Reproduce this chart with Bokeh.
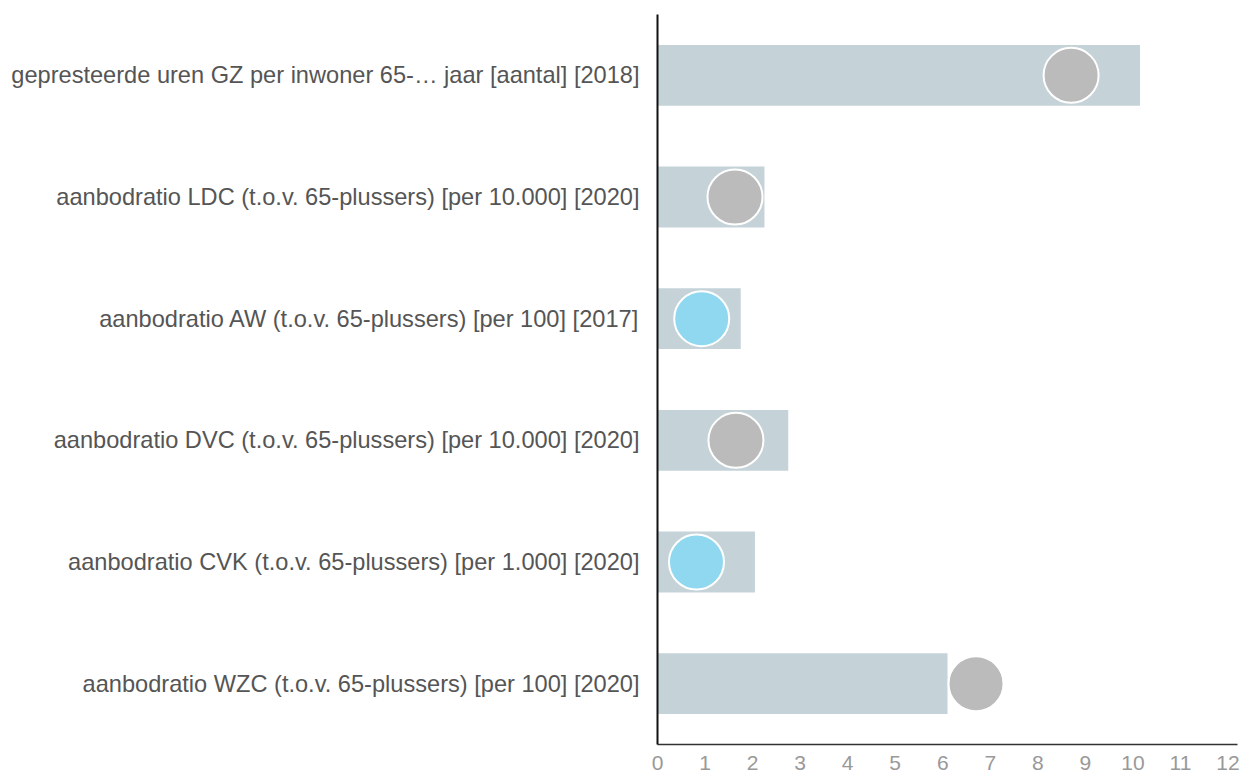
from bokeh.plotting import figure
from bokeh.models import FactorRange, Range1d, FixedTicker, ColumnDataSource
from bokeh.embed import file_html
from bokeh.resources import INLINE

categories = [
    "gepresteerde uren GZ per inwoner 65-… jaar [aantal] [2018]",
    "aanbodratio LDC (t.o.v. 65-plussers) [per 10.000] [2020]",
    "aanbodratio AW (t.o.v. 65-plussers) [per 100] [2017]",
    "aanbodratio DVC (t.o.v. 65-plussers) [per 10.000] [2020]",
    "aanbodratio CVK (t.o.v. 65-plussers) [per 1.000] [2020]",
    "aanbodratio WZC (t.o.v. 65-plussers) [per 100] [2020]",
]
bar_values = [10.15, 2.25, 1.75, 2.75, 2.05, 6.1]
dot_values = [8.7, 1.63, 0.93, 1.65, 0.82, 6.7]
dot_colors = ["#bbbbbb", "#bbbbbb", "#8fd8ef", "#bbbbbb", "#8fd8ef", "#bbbbbb"]
x_ticks = list(range(0, 13))

src = ColumnDataSource(dict(cat=categories, bar=bar_values, dot=dot_values, col=dot_colors))

p = figure(
    frame_width=580, frame_height=730,
    y_range=FactorRange(factors=list(reversed(categories))),
    x_range=Range1d(0, 12.2),
    output_backend="svg", toolbar_location=None,
    min_border_left=657, min_border_right=11, min_border_top=14, min_border_bottom=4,
)
p.outline_line_color = None
p.grid.grid_line_color = None
p.background_fill_color = "white"

p.hbar(y="cat", left=0, right="bar", height=0.5, source=src, color="#c5d3d9", line_color=None)
p.scatter(x="dot", y="cat", source=src, size=55, fill_color="col", line_color="white", line_width=2)

xa = p.xaxis[0]
xa.ticker = FixedTicker(ticks=x_ticks)
xa.major_tick_line_color = None
xa.minor_tick_line_color = None
xa.axis_line_color = "#333333"
xa.axis_line_width = 1.5
xa.major_label_text_font = "Liberation Sans"
xa.major_label_text_font_size = "21px"
xa.major_label_text_color = "#999999"
xa.major_label_standoff = 5

ya = p.yaxis[0]
ya.major_tick_line_color = None
ya.minor_tick_line_color = None
ya.axis_line_color = "#111111"
ya.axis_line_width = 2
ya.major_label_text_font = "Liberation Sans"
ya.major_label_text_font_size = "23.6px"
ya.major_label_text_color = "#555555"
ya.major_label_standoff = 12

open("out.html", "w").write(file_html(p, INLINE))
